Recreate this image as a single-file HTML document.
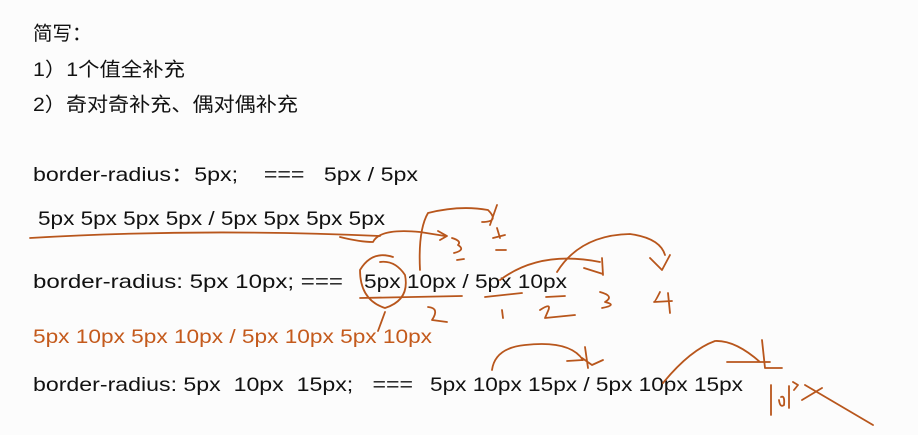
<!DOCTYPE html>
<html><head><meta charset="utf-8"><style>
html,body{margin:0;padding:0;background:#fcfcfc;width:918px;height:435px;overflow:hidden}
svg{display:block}
text{font-family:"Liberation Sans","Noto Sans CJK SC",sans-serif;font-size:19.5px;fill:#111}
.o{fill:#c45a1c}
path{fill:none;stroke:#b8561c;stroke-width:1.8;stroke-linecap:round;stroke-linejoin:round}
</style></head><body>
<svg width="918" height="435" viewBox="0 0 918 435">
<text x="33" y="40">简写：</text>
<text x="33" y="76" textLength="152" lengthAdjust="spacingAndGlyphs">1）1个值全补充</text>
<text x="33" y="111" textLength="265" lengthAdjust="spacingAndGlyphs">2）奇对奇补充、偶对偶补充</text>
<text x="33" y="181" xml:space="preserve" textLength="385" lengthAdjust="spacingAndGlyphs">border-radius：5px;    ===   5px / 5px</text>
<text x="38" y="225" textLength="347" lengthAdjust="spacingAndGlyphs">5px 5px 5px 5px / 5px 5px 5px 5px</text>
<text x="33" y="288" xml:space="preserve" textLength="310" lengthAdjust="spacingAndGlyphs">border-radius: 5px 10px; ===</text>
<text x="364" y="288" textLength="203" lengthAdjust="spacingAndGlyphs">5px 10px / 5px 10px</text>
<text x="33" y="343" class="o" textLength="399" lengthAdjust="spacingAndGlyphs">5px 10px 5px 10px / 5px 10px 5px 10px</text>
<text x="33" y="391" xml:space="preserve" textLength="380" lengthAdjust="spacingAndGlyphs">border-radius: 5px  10px  15px;   ===</text>
<text x="430" y="391" textLength="313" lengthAdjust="spacingAndGlyphs">5px 10px 15px / 5px 10px 15px</text>
<path d="M30 238 Q200 228 380 236"/>
<path d="M420 270 Q418 230 428 213 Q460 205 488 210 Q500 222 482 222 M490 225 L497 205"/>
<path d="M497 228 L500 238 M493 238 L505 235 M496 250 L506 250"/>
<path d="M340 237 Q360 242 373 242 Q380 228 420 232 L445 236 M438 231 L447 236 L440 240"/>
<path d="M452 238 Q462 241 458 245 Q466 250 454 253 M457 260 L464 259"/>
<path d="M393 257 Q372 250 360 270 Q360 300 385 308 Q410 300 405 275 Q395 260 380 262"/>
<path d="M360 298 L462 296 M385 312 L378 331"/>
<path d="M428 307 Q440 308 432 320 L447 322"/>
<path d="M500 280 Q540 250 600 262 M584 268 L603 274 M602 258 L603 275"/>
<path d="M557 272 Q580 235 630 234 Q660 238 665 255 M650 258 L662 270 L670 255"/>
<path d="M485 297 L522 293 M502 310 L503 318 M546 297 L565 296 M540 310 Q552 302 548 311 L545 318 L575 315"/>
<path d="M600 292 Q615 296 605 302 Q618 305 602 308"/>
<path d="M660 292 Q655 302 654 302 L672 301 M668 293 L670 313"/>
<path d="M492 370 Q495 348 525 345 Q570 340 583 360 M567 361 L583 360 M585 347 L588 368 M582 358 L592 365 L603 360"/>
<path d="M663 383 Q690 350 715 341 Q735 340 760 362 M727 362 L770 362 M762 340 L765 368 L782 368"/>
<path d="M771 385 L771 415 M781 397 Q785 395 784 405 Q780 408 779 400 M789 386 L789 408 M793 382 L798 385 L794 390 M802 400 L822 388 M805 385 L873 425"/>
</svg>
</body></html>
